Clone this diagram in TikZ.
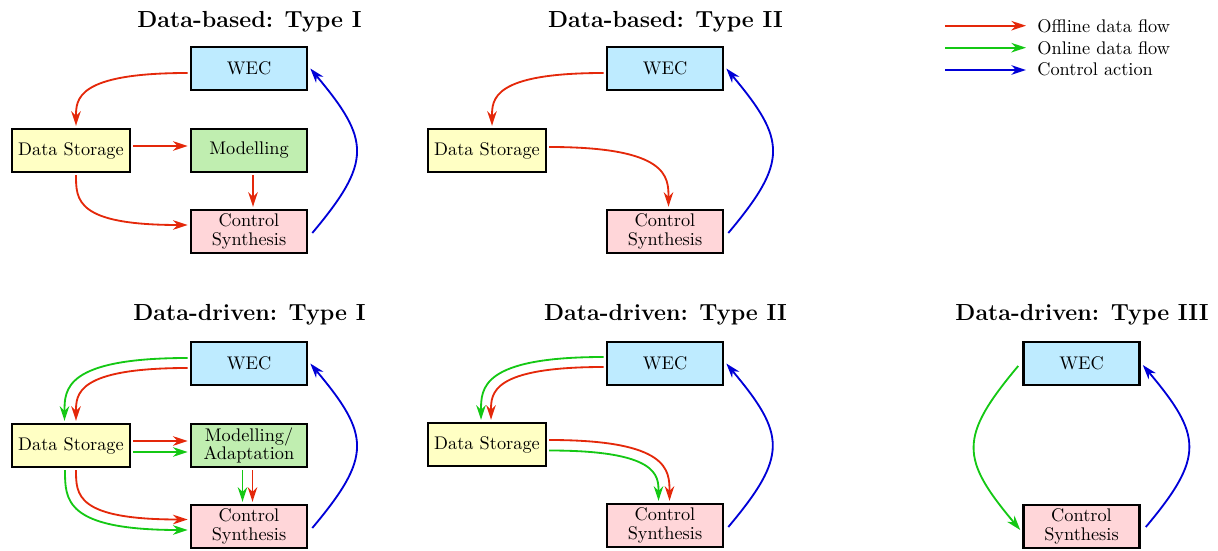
\documentclass[tikz,border=0pt]{standalone}
\usetikzlibrary{arrows.meta,calc}
\definecolor{offred}{RGB}{228,40,10}
\definecolor{ongreen}{RGB}{20,200,20}
\definecolor{ctrlblue}{RGB}{0,0,215}
\definecolor{wecfill}{RGB}{190,235,255}
\definecolor{dsfill}{RGB}{255,255,196}
\definecolor{modfill}{RGB}{192,238,176}
\definecolor{csfill}{RGB}{255,214,217}
% horizontal start, vertical end
\newcommand\hvcurve[3]{\draw[#1] (#2) .. controls (#2 -| #3) and ($(#3)!0.5!(#3 |- #2)$) .. (#3);}
% vertical start, horizontal end
\newcommand\vhcurve[3]{\draw[#1] (#2) .. controls ($(#2)!0.5!(#2 |- #3)$) and (#2 |- #3) .. (#3);}
\begin{document}
\begin{tikzpicture}[x=0.5464pt,y=-0.5464pt,
 box/.style={draw=black,line width=1.3pt,minimum width=63.5pt,minimum height=23.5pt,inner sep=1pt,align=center,font=\normalsize},
 wecbox/.style={box,fill=wecfill},
 dsbox/.style={box,fill=dsfill,minimum width=64.5pt},
 modbox/.style={box,fill=modfill},
 csbox/.style={box,fill=csfill},
 flowline/.style={line width=1pt,-{Stealth[length=8pt,width=5.2pt,inset=2.5pt]}},
 offflow/.style={flowline,draw=offred},
 onflow/.style={flowline,draw=ongreen},
 ctrlflow/.style={flowline,draw=ctrlblue},
 bigloop/.style={looseness=1.45},
 ttl/.style={font=\fontsize{12.7}{15}\selectfont\bfseries,anchor=base,inner sep=0pt},
 lgtext/.style={anchor=base west,font=\normalsize,inner sep=0pt}]
\useasboundingbox (0,0) rectangle (1218,551);

% ---------- titles
\node[ttl] (t1) at (249.5,27.5) {Data-based: Type I};
\node[ttl] (t2) at (665.5,27.5) {Data-based: Type II};
\node[ttl] (t3) at (249.5,321) {Data-driven: Type I};
\node[ttl] (t4) at (665.5,321) {Data-driven: Type II};
\node[ttl] (t5) at (1082,321) {Data-driven: Type III};

% ---------- legend
\coordinate (l1a) at (945,25.7); \coordinate (l1b) at (1026,25.7);
\coordinate (l2a) at (945,47.7); \coordinate (l2b) at (1026,47.7);
\coordinate (l3a) at (945,70);   \coordinate (l3b) at (1026,70);
\draw[offflow]  (l1a) -- (l1b);
\draw[onflow]   (l2a) -- (l2b);
\draw[ctrlflow] (l3a) -- (l3b);
\node[lgtext] (lg1) at (1037,32.7) {Offline data flow};
\node[lgtext] (lg2) at (1037,54.3) {Online data flow};
\node[lgtext] (lg3) at (1037,76)   {Control action};

% ---------- panel 1: Data-based Type I
\node[wecbox] (wec1) at (249,68.5) {WEC};
\node[dsbox]  (ds1)  at (71,150.5) {Data Storage};
\node[modbox] (mod1) at (249,150.5) {Modelling};
\node[csbox]  (cs1)  at (249,231.5) {Control\\[-2pt]Synthesis};
\coordinate (a1s) at ($(wec1.west)+(-2,4.5)$);  \coordinate (a1e) at ($(ds1.north)+(5,-2)$);
\coordinate (b1s) at ($(ds1.south)+(5,2)$);     \coordinate (b1e) at ($(cs1.west)+(-2,-6.5)$);
\hvcurve{offflow}{a1s}{a1e}
\draw[offflow] ($(ds1.east)+(2,-4.5)$) -- ($(mod1.west)+(-2,-4.5)$);
\draw[offflow] ($(mod1.south)+(4,2)$) -- ($(cs1.north)+(4,-2)$);
\vhcurve{offflow}{b1s}{b1e}
\draw[ctrlflow] ($(cs1.east)+(4,1.5)$) to[out=50,in=-50,bigloop] ($(wec1.east)+(2,0)$);

% ---------- panel 2: Data-based Type II
\node[wecbox] (wec2) at (665,68.5) {WEC};
\node[dsbox]  (ds2)  at (487,150.5) {Data Storage};
\node[csbox]  (cs2)  at (665,231.5) {Control\\[-2pt]Synthesis};
\coordinate (a2s) at ($(wec2.west)+(-2,4.5)$);  \coordinate (a2e) at ($(ds2.north)+(5,-2)$);
\coordinate (b2s) at ($(ds2.east)+(2,-3.5)$);   \coordinate (b2e) at ($(cs2.north)+(3.5,-2)$);
\hvcurve{offflow}{a2s}{a2e}
\hvcurve{offflow}{b2s}{b2e}
\draw[ctrlflow] ($(cs2.east)+(4,1.5)$) to[out=50,in=-50,bigloop] ($(wec2.east)+(2,0)$);

% ---------- panel 3: Data-driven Type I
\node[wecbox] (wec3) at (249,363.5) {WEC};
\node[dsbox]  (ds3)  at (71,445.5) {Data Storage};
\node[modbox] (mod3) at (249,445.5) {Modelling/\\[-2pt]Adaptation};
\node[csbox]  (cs3)  at (249,526.5) {Control\\[-2pt]Synthesis};
\coordinate (g3s) at ($(wec3.west)+(-2,-5.5)$); \coordinate (g3e) at ($(ds3.north)+(-6.5,-2)$);
\coordinate (r3s) at ($(wec3.west)+(-2,4.5)$);  \coordinate (r3e) at ($(ds3.north)+(5,-2)$);
\coordinate (h3s) at ($(ds3.south)+(5,2)$);     \coordinate (h3e) at ($(cs3.west)+(-2,-7)$);
\coordinate (k3s) at ($(ds3.south)+(-6,2)$);    \coordinate (k3e) at ($(cs3.west)+(-2,3.5)$);
\hvcurve{onflow}{g3s}{g3e}
\hvcurve{offflow}{r3s}{r3e}
\draw[offflow] ($(ds3.east)+(2,-4.5)$) -- ($(mod3.west)+(-2,-4.5)$);
\draw[onflow]  ($(ds3.east)+(2,6.5)$) -- ($(mod3.west)+(-2,6.5)$);
\draw[onflow]  ($(mod3.south)+(-6.5,2)$) -- ($(cs3.north)+(-6.5,-2)$);
\draw[offflow] ($(mod3.south)+(3.5,2)$) -- ($(cs3.north)+(3.5,-2)$);
\vhcurve{offflow}{h3s}{h3e}
\vhcurve{onflow}{k3s}{k3e}
\draw[ctrlflow] ($(cs3.east)+(4,1.5)$) to[out=50,in=-50,bigloop] ($(wec3.east)+(2,0)$);

% ---------- panel 4: Data-driven Type II
\node[wecbox] (wec4) at (665,363.5) {WEC};
\node[dsbox]  (ds4)  at (487,444.5) {Data Storage};
\node[csbox]  (cs4)  at (665,525.5) {Control\\[-2pt]Synthesis};
\coordinate (g4s) at ($(wec4.west)+(-2,-6.5)$); \coordinate (g4e) at ($(ds4.north)+(-6,-2)$);
\coordinate (r4s) at ($(wec4.west)+(-2,3.5)$);  \coordinate (r4e) at ($(ds4.north)+(4,-2)$);
\coordinate (h4s) at ($(ds4.east)+(2,-4.5)$);   \coordinate (h4e) at ($(cs4.north)+(4.5,-2)$);
\coordinate (k4s) at ($(ds4.east)+(2,6)$);      \coordinate (k4e) at ($(cs4.north)+(-6.5,-2)$);
\hvcurve{onflow}{g4s}{g4e}
\hvcurve{offflow}{r4s}{r4e}
\hvcurve{offflow}{h4s}{h4e}
\hvcurve{onflow}{k4s}{k4e}
\draw[ctrlflow] ($(cs4.east)+(4,1.5)$) to[out=50,in=-50,bigloop] ($(wec4.east)+(2,0)$);

% ---------- panel 5: Data-driven Type III
\node[wecbox] (wec5) at (1081.5,363.5) {WEC};
\node[csbox]  (cs5)  at (1081.5,526.5) {Control\\[-2pt]Synthesis};
\draw[onflow]   ($(wec5.west)+(-4,2.5)$) to[out=-130,in=130,bigloop] ($(cs5.west)+(-2,3.5)$);
\draw[ctrlflow] ($(cs5.east)+(5,0.5)$) to[out=50,in=-50,bigloop] ($(wec5.east)+(2,1.5)$);
\end{tikzpicture}
\end{document}
